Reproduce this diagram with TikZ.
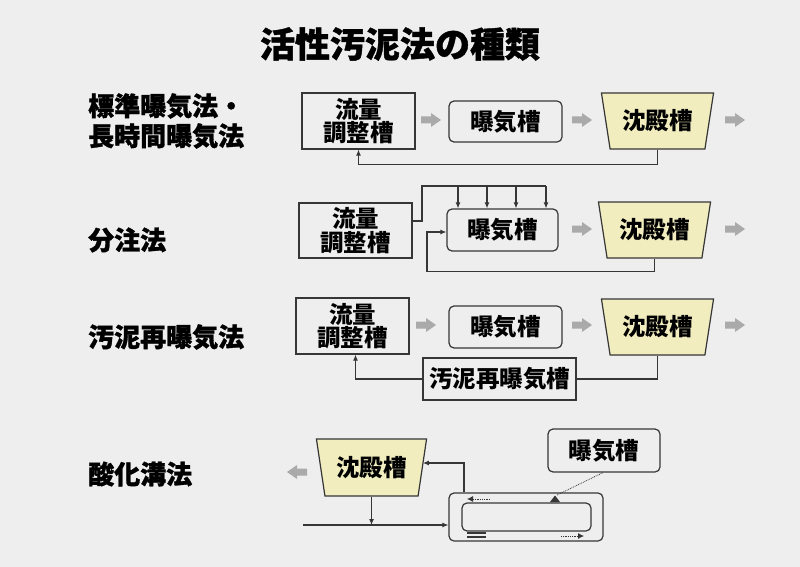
\documentclass[tikz,border=0pt]{standalone}
\usepackage{fontspec}
\newfontfamily\jp{Noto Sans CJK JP}
\newfontfamily\jpheavy[FakeBold=1.2]{Noto Sans CJK JP}
\usetikzlibrary{shapes.geometric,arrows.meta}

\definecolor{bgcol}{HTML}{EEEEEE}
\definecolor{linecol}{HTML}{363636}
\definecolor{sedcol}{HTML}{F1EDBF}
\definecolor{garcol}{HTML}{AAAAAA}

\begin{document}
\begin{tikzpicture}[x=1pt, y=-1pt,
  box/.style={draw=linecol, line width=1.2pt, inner sep=0pt, align=center,
    font=\jp\bfseries\fontsize{23.5}{23.5}\selectfont},
  rbox/.style={box, rounded corners=5pt},
  sed/.style={box, fill=sedcol, trapezium, shape border rotate=180,
    trapezium angle=74, trapezium stretches=true,
    minimum width=113pt, minimum height=56pt},
  lab/.style={anchor=west, inner sep=0pt, align=left,
    font=\jpheavy\bfseries\fontsize{26}{30}\selectfont},
  line/.style={draw=linecol, line width=1.1pt},
  conn/.style={line, -{Latex[length=6pt,width=5pt]}},
  garr/.pic={\fill[garcol] (-10,-3.5) -- (0,-3.5) -- (0,-7) -- (10,0)
    -- (0,7) -- (0,3.5) -- (-10,3.5) -- cycle;}]
\fill[bgcol] (0,0) rectangle (800,567);
\useasboundingbox (0,0) rectangle (800,567);

\node[font=\jpheavy\bfseries\fontsize{35}{36}\selectfont] (title) at (400,44) {活性汚泥法の種類};

% left labels
\node[lab] (l1) at (88,121) {標準曝気法・\\長時間曝気法};
\node[lab] (l2) at (88,240) {分注法};
\node[lab] (l3) at (88,337) {汚泥再曝気法};
\node[lab] (l4) at (88,474) {酸化溝法};

% standard
\node[box, minimum width=113pt, minimum height=56pt] (adj1) at (358.5,121) {流量\\調整槽};
\node[rbox, minimum width=113pt, minimum height=41pt] (aer1) at (505.5,121.5) {曝気槽};
\node[sed] (sed1) at (657.5,121) {沈殿槽};
\pic at (431,120) {garr};
\pic at (582,120) {garr};
\pic at (735,120) {garr};
\draw[conn] (sed1.south) -- ++(0,15) -| (adj1.south);

% step feed
\node[box, minimum width=113pt, minimum height=55pt] (adj2) at (355.5,230.5) {流量\\調整槽};
\node[rbox, minimum width=111pt, minimum height=42pt] (aer2) at (502.5,230) {曝気槽};
\node[sed] (sed2) at (654.5,230) {沈殿槽};
\pic at (582,229) {garr};
\pic at (735,229) {garr};
\draw[line] (adj2.east |- 0,221) -- (422,221) -- (422,186) -- (546,186);
\foreach \x in {458,487,516,546}
  \draw[conn] (\x,186) -- (aer2.north -| \x,0);
\draw[conn] (sed2.south) -- ++(0,13) -| (427,232) -- (aer2.west |- 0,232);

% contact stabilization
\node[box, minimum width=113pt, minimum height=56pt] (adj3) at (352.5,326) {流量\\調整槽};
\node[rbox, minimum width=113pt, minimum height=42pt] (aer3) at (505.5,327) {曝気槽};
\node[sed] (sed3) at (657.5,327) {沈殿槽};
\node[box, minimum width=153pt, minimum height=42pt] (rea) at (499.5,379) {汚泥再曝気槽};
\pic at (426,325) {garr};
\pic at (582,325) {garr};
\pic at (735,325) {garr};
\draw[line] (sed3.south) |- (rea.east);
\draw[conn] (rea.west) -| ([xshift=3pt]adj3.south);

% oxidation ditch
\node[sed, minimum width=111pt, minimum height=57pt] (sed4) at (371.5,467.5) {沈殿槽};
\node[rbox, minimum width=112pt, minimum height=43pt] (aer4) at (604,450.5) {曝気槽};
\node[rbox, minimum width=154pt, minimum height=48pt] (ditch) at (526,517) {};
\node[rbox, minimum width=129pt, minimum height=28pt] (chan) at (526.5,517) {};
\pic[rotate=180] at (297,472) {garr};
\coordinate (in) at (303,525);
\draw[conn] (sed4.south) -- (sed4.south |- in);
\draw[conn] (in) -- (in -| ditch.west);
\draw[conn] (ditch.north -| 464,0) -- (464,463) -- (sed4.east |- 0,463);
% aerator
\draw[line, line width=0.8pt, densely dotted] (aer4.south -| 603,0) -- (557,495);
\fill[linecol] (555,495.5) -- (560,502) -- (550,502) -- cycle;
\draw[line, line width=0.8pt, densely dotted, -{Latex[length=6pt,width=6pt]}] (490,499) -- (467,499);
\draw[line, line width=0.8pt, densely dotted, -{Latex[length=6pt,width=6pt]}] (561,536) -- (584,536);
\draw[line] (467,533) -- (486,533) (467,537) -- (486,537);
\end{tikzpicture}
\end{document}
